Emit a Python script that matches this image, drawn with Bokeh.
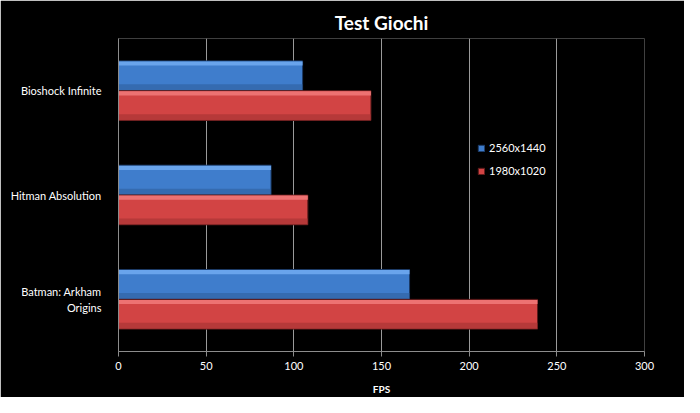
from bokeh.plotting import figure
from bokeh.models import FactorRange, Legend, LegendItem, FixedTicker, Title
from bokeh.transform import dodge
from bokeh.embed import file_html
from bokeh.resources import INLINE

games = ["Batman: Arkham\nOrigins", "Hitman Absolution", "Bioshock Infinite"]
fps_2560 = [166, 87, 105]
fps_1980 = [239, 108, 144]
series_names = ["2560x1440", "1980x1020"]
x_ticks = [0, 50, 100, 150, 200, 250, 300]

FONT = "Lato"
p = figure(width=684, height=397, y_range=FactorRange(factors=games),
           x_range=(0, 300), output_backend="svg", toolbar_location=None,
           background_fill_color="black", border_fill_color="black",
           min_border_left=118, min_border_right=40, min_border_bottom=44, min_border_top=38)
p.outline_line_color = None
p.title = Title(text="Test Giochi", align="center", text_color="white",
                text_font=FONT, text_font_size="19px", text_font_style="bold")

data = dict(g=games, a=fps_2560, b=fps_1980)
bh = 0.285
off = 0.143
series = [("a", off, "#3f7dcc", "#6ea8ef", "#2f5f9c", "#1c3a66"),
          ("b", -off, "#d24444", "#f07878", "#a33232", "#5a1a1a")]
legend_items = []
for (col, o, base, light, dark, edge), name in zip(series, series_names):
    r = p.hbar(y=dodge("g", o, range=p.y_range), right=col, height=bh, left=0,
               source=data, fill_color=base, line_color=edge, line_width=1)
    p.hbar(y=dodge("g", o + bh / 2 - 0.025, range=p.y_range), right=col, height=0.04, left=0,
           source=data, fill_color=light, line_color=None, fill_alpha=0.9)
    p.hbar(y=dodge("g", o - bh / 2 + 0.03, range=p.y_range), right=col, height=0.06, left=0,
           source=data, fill_color=dark, line_color=None, fill_alpha=0.6)
    legend_items.append(LegendItem(label=name, renderers=[r]))

legend = Legend(items=legend_items, location=(359, 174), background_fill_alpha=0,
                border_line_color=None, label_text_color="white", label_text_font=FONT,
                label_text_font_size="11px", glyph_width=8, glyph_height=8,
                spacing=10, label_standoff=4, padding=0, margin=0)
p.add_layout(legend, "center")

p.xaxis.ticker = FixedTicker(ticks=x_ticks)
p.xaxis.axis_label = "FPS"
p.xaxis.axis_label_text_color = "white"
p.xaxis.axis_label_text_font = FONT
p.xaxis.axis_label_text_font_size = "10px"
p.xaxis.axis_label_text_font_style = "bold"
p.xaxis.axis_label_standoff = 10
for ax in (p.xaxis, p.yaxis):
    ax.axis_line_color = "#8c8c8c"
    ax.major_tick_line_color = "#8c8c8c"
    ax.minor_tick_line_color = None
    ax.major_label_text_color = "white"
    ax.major_label_text_font = FONT
    ax.major_label_text_font_size = "11px"
    ax.major_tick_in = 0
    ax.major_tick_out = 5
p.yaxis.major_tick_line_color = None
p.yaxis.major_label_standoff = 12
p.xgrid.grid_line_color = "#9a9a9a"
p.ygrid.grid_line_color = None

open("out.html", "w").write(file_html(p, INLINE))
